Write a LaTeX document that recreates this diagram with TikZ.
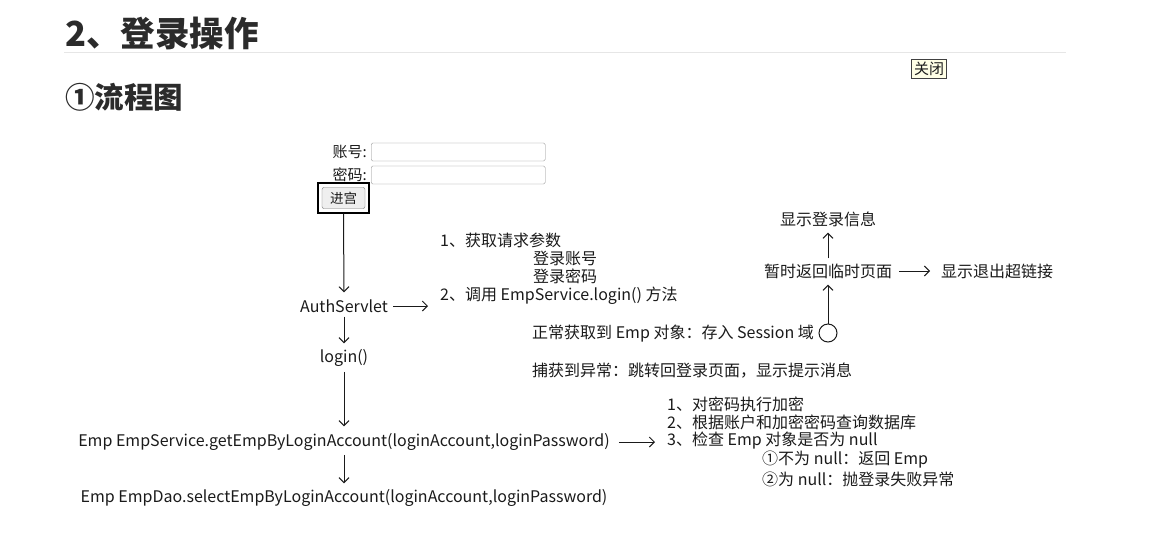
\documentclass[tikz,border=0pt]{standalone}
\usepackage{fontspec}
\setmainfont{Noto Sans CJK SC}
\usetikzlibrary{arrows.meta}
\definecolor{txt}{HTML}{1A1A1A}
\definecolor{ttl}{HTML}{2B2B2B}
\definecolor{rulec}{HTML}{E6E6E6}
\definecolor{tipbg}{HTML}{FFFFE6}
\definecolor{inb}{HTML}{8A8A8A}
\definecolor{btnfill}{HTML}{EFEFEF}
\begin{document}
\begin{tikzpicture}[x=1pt,y=-1pt,
  every node/.style={inner sep=0pt, text=txt, font=\fontsize{16}{19}\selectfont},
  lbl/.style={inner sep=3pt},
  arr/.style={draw=txt, line width=1pt, -{Straight Barb[length=5pt,width=10pt]}},
  inbox/.style={draw=inb, fill=white, rounded corners=1.5pt, minimum width=174pt, minimum height=18pt, anchor=west},
]
\useasboundingbox (0,0) rectangle (1152,550);
% headings
\node[anchor=west, font=\bfseries\fontsize{34.5}{38}\selectfont, text=ttl] (h1) at (65,33) {2、登录操作};
\draw[rulec, line width=1pt] (64,52) -- (1066,52);
\node[anchor=west, font=\bfseries\fontsize{29.5}{33}\selectfont, text=ttl] (h2) at (65,97) {①流程图};
\node[draw=black!75, fill=tipbg, inner sep=2.5pt, font=\fontsize{15}{17}\selectfont] (close) at (929,69) {关闭};
% form
\node[anchor=east, font=\fontsize{15}{17}\selectfont] (lacc) at (367,152) {账号:};
\node[inbox] (iacc) at (371,152) {};
\node[anchor=east, font=\fontsize{15}{17}\selectfont] (lpwd) at (367,175) {密码:};
\node[inbox] (ipwd) at (371,175) {};
\node[draw=black, line width=1.2pt, minimum width=51pt, minimum height=30pt] (frame) at (343.5,198) {};
\node[draw=black!55, fill=btnfill, rounded corners=2pt, minimum width=43pt, minimum height=21pt, font=\fontsize{13.5}{15}\selectfont] (btn) at (343.5,198) {进宫};
% main flow
\node[lbl] (auth) at (344,306) {AuthServlet};
\node[lbl] (login) at (344,358) {login()};
\node[lbl] (svc) at (344,442) {Emp EmpService.getEmpByLoginAccount(loginAccount,loginPassword)};
\node[lbl] (dao) at (344,498) {Emp EmpDao.selectEmpByLoginAccount(loginAccount,loginPassword)};
\draw[arr, shorten >=4pt] (frame.south) -- (auth.north);
\draw[arr, shorten <=1pt, shorten >=3pt] (auth.south) -- (login.north);
\draw[arr, shorten <=2pt, shorten >=4pt] (login.south) -- (svc.north);
\draw[arr, shorten <=1pt, shorten >=3pt] (svc.south) -- (dao.north);
% servlet notes
\node[anchor=west] (r1) at (440,240) {1、获取请求参数};
\node[anchor=west] (r1a) at (533,258) {登录账号};
\node[anchor=west] (r1b) at (533,276) {登录密码};
\node[anchor=west] (r2) at (440,296) {2、调用 EmpService.login() 方法};
\draw[arr, shorten <=2pt, shorten >=12pt] (auth.east) -- (auth.east -| r2.west);
% result branches
\node[anchor=west] (ok) at (532,334) {正常获取到 Emp 对象：存入 Session 域};
\node[anchor=west] (err) at (532,371) {捕获到异常：跳转回登录页面，显示提示消息};
\node[draw=txt, line width=1pt, circle, minimum size=18pt] (dot) at (828,333) {};
\node[lbl] (tmp) at (828,271) {暂时返回临时页面};
\node[lbl] (info) at (828,219) {显示登录信息};
\node[lbl, anchor=west] (logout) at (938,271) {显示退出超链接};
\draw[arr, shorten >=3pt] (dot.north) -- (tmp.south);
\draw[arr, shorten <=2pt, shorten >=3pt] (tmp.north) -- (info.south);
\draw[arr, shorten <=4pt, shorten >=8pt] (tmp.east) -- (logout.west);
% service notes
\node[anchor=west] (s1) at (667,404) {1、对密码执行加密};
\node[anchor=west] (s2) at (667,422) {2、根据账户和加密密码查询数据库};
\node[anchor=west] (s3) at (667,441) {3、检查 Emp 对象是否为 null};
\node[anchor=west] (s3a) at (762,460) {①不为 null：返回 Emp};
\node[anchor=west] (s3b) at (762,479) {②为 null：抛登录失败异常};
\draw[arr, shorten <=6pt, shorten >=12pt] (svc.east) -- (svc.east -| s3.west);
\end{tikzpicture}
\end{document}
